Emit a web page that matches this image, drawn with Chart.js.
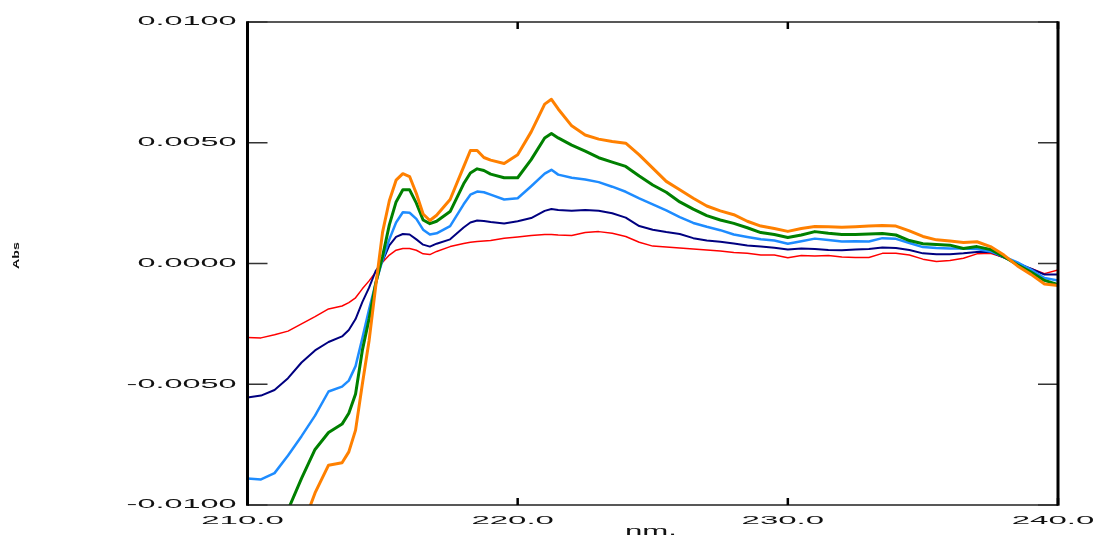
<!DOCTYPE html>
<html>
<head>
<meta charset="utf-8">
<script src="https://cdn.jsdelivr.net/npm/chart.js@4.4.1/dist/chart.umd.min.js"></script>
<style>
  html, body { margin: 0; padding: 0; background: #fff; }
  #wrap { width: 1093px; height: 537px; }
</style>
</head>
<body>
<div id="wrap"><canvas id="canvas" width="1093" height="537"></canvas></div>
<script>
// wavelengths (nm)
var wavelengths = [210, 210.5, 211, 211.5, 212, 212.5, 213, 213.5,
  213.75, 214, 214.25, 214.5, 214.75, 215, 215.25, 215.5, 215.75, 216, 216.25, 216.5, 216.75, 217,
  217.5, 218, 218.25, 218.5, 218.75, 219, 219.5, 220, 220.5, 221, 221.25, 221.5,
  222, 222.5, 223, 223.5, 224, 224.5, 225, 225.5, 226, 226.5, 227, 227.5, 228, 228.5, 229, 229.5,
  230, 230.5, 231, 231.5, 232, 232.5, 233, 233.5, 234, 234.5, 235, 235.5, 236, 236.5, 237, 237.5,
  238, 238.5, 239, 239.5, 240];

// absorbance values (Abs)
var absRed = [-3.06e-3, -3.08e-3, -2.95e-3, -2.80e-3, -2.50e-3, -2.20e-3, -1.88e-3, -1.76e-3,
  -1.62e-3, -1.42e-3, -1.05e-3, -0.72e-3, -0.35e-3, 0.05e-3, 0.35e-3, 0.55e-3, 0.62e-3, 0.62e-3, 0.55e-3, 0.40e-3, 0.37e-3, 0.50e-3,
  0.70e-3, 0.83e-3, 0.88e-3, 0.91e-3, 0.93e-3, 0.95e-3, 1.05e-3, 1.10e-3, 1.16e-3, 1.20e-3, 1.20e-3, 1.18e-3,
  1.16e-3, 1.28e-3, 1.32e-3, 1.25e-3, 1.12e-3, 0.88e-3, 0.72e-3, 0.68e-3, 0.64e-3, 0.60e-3, 0.56e-3, 0.52e-3, 0.46e-3, 0.42e-3, 0.35e-3, 0.35e-3,
  0.24e-3, 0.33e-3, 0.31e-3, 0.33e-3, 0.27e-3, 0.25e-3, 0.25e-3, 0.42e-3, 0.42e-3, 0.35e-3, 0.18e-3, 0.08e-3, 0.12e-3, 0.22e-3, 0.40e-3, 0.42e-3,
  0.25e-3, 0.02e-3, -0.21e-3, -0.42e-3, -0.27e-3];

var absNavy = [-5.55e-3, -5.47e-3, -5.24e-3, -4.75e-3, -4.10e-3, -3.60e-3, -3.25e-3, -3.02e-3,
  -2.75e-3, -2.30e-3, -1.60e-3, -1.00e-3, -0.30e-3, 0.10e-3, 0.75e-3, 1.10e-3, 1.22e-3, 1.20e-3, 1.00e-3, 0.78e-3, 0.70e-3, 0.82e-3,
  1.00e-3, 1.49e-3, 1.70e-3, 1.78e-3, 1.76e-3, 1.72e-3, 1.66e-3, 1.75e-3, 1.88e-3, 2.18e-3, 2.26e-3, 2.22e-3,
  2.18e-3, 2.22e-3, 2.18e-3, 2.08e-3, 1.90e-3, 1.55e-3, 1.40e-3, 1.30e-3, 1.22e-3, 1.05e-3, 0.95e-3, 0.90e-3, 0.83e-3, 0.75e-3, 0.70e-3, 0.65e-3,
  0.58e-3, 0.62e-3, 0.60e-3, 0.56e-3, 0.55e-3, 0.58e-3, 0.60e-3, 0.66e-3, 0.64e-3, 0.56e-3, 0.42e-3, 0.38e-3, 0.38e-3, 0.42e-3, 0.48e-3, 0.48e-3,
  0.25e-3, 0.00e-3, -0.21e-3, -0.46e-3, -0.46e-3];

var absBlue = [-8.90e-3, -8.94e-3, -8.68e-3, -7.95e-3, -7.15e-3, -6.30e-3, -5.30e-3, -5.10e-3,
  -4.85e-3, -4.25e-3, -3.10e-3, -1.90e-3, -0.80e-3, 0.15e-3, 1.00e-3, 1.70e-3, 2.12e-3, 2.10e-3, 1.85e-3, 1.40e-3, 1.20e-3, 1.25e-3,
  1.55e-3, 2.45e-3, 2.85e-3, 2.98e-3, 2.95e-3, 2.85e-3, 2.65e-3, 2.70e-3, 3.20e-3, 3.72e-3, 3.88e-3, 3.68e-3,
  3.55e-3, 3.48e-3, 3.37e-3, 3.18e-3, 2.97e-3, 2.70e-3, 2.45e-3, 2.20e-3, 1.92e-3, 1.68e-3, 1.52e-3, 1.38e-3, 1.20e-3, 1.10e-3, 1.00e-3, 0.95e-3,
  0.82e-3, 0.92e-3, 1.03e-3, 0.97e-3, 0.91e-3, 0.92e-3, 0.91e-3, 1.05e-3, 1.02e-3, 0.85e-3, 0.68e-3, 0.64e-3, 0.62e-3, 0.62e-3, 0.60e-3, 0.50e-3,
  0.28e-3, 0.05e-3, -0.25e-3, -0.60e-3, -0.70e-3];

var absGreen = [-12.5e-3, -11.8e-3, -11.0e-3, -10.2e-3, -8.90e-3, -7.70e-3, -7.00e-3, -6.65e-3,
  -6.20e-3, -5.40e-3, -3.60e-3, -2.30e-3, -0.80e-3, 0.30e-3, 1.60e-3, 2.55e-3, 3.05e-3, 3.05e-3, 2.50e-3, 1.80e-3, 1.65e-3, 1.75e-3,
  2.15e-3, 3.30e-3, 3.75e-3, 3.92e-3, 3.85e-3, 3.70e-3, 3.55e-3, 3.55e-3, 4.30e-3, 5.20e-3, 5.38e-3, 5.20e-3,
  4.90e-3, 4.65e-3, 4.38e-3, 4.20e-3, 4.02e-3, 3.62e-3, 3.25e-3, 2.95e-3, 2.55e-3, 2.25e-3, 1.98e-3, 1.80e-3, 1.66e-3, 1.48e-3, 1.28e-3, 1.20e-3,
  1.08e-3, 1.18e-3, 1.32e-3, 1.25e-3, 1.20e-3, 1.20e-3, 1.22e-3, 1.24e-3, 1.18e-3, 0.95e-3, 0.82e-3, 0.79e-3, 0.76e-3, 0.62e-3, 0.70e-3, 0.58e-3,
  0.28e-3, -0.05e-3, -0.35e-3, -0.70e-3, -0.87e-3];

var absOrange = [-15.0e-3, -14.0e-3, -13.0e-3, -12.0e-3, -11.0e-3, -9.50e-3, -8.35e-3, -8.25e-3,
  -7.80e-3, -6.90e-3, -5.00e-3, -3.20e-3, -0.90e-3, 1.30e-3, 2.60e-3, 3.45e-3, 3.72e-3, 3.60e-3, 2.90e-3, 2.05e-3, 1.78e-3, 2.00e-3,
  2.65e-3, 4.00e-3, 4.68e-3, 4.68e-3, 4.39e-3, 4.28e-3, 4.14e-3, 4.50e-3, 5.45e-3, 6.60e-3, 6.80e-3, 6.40e-3,
  5.70e-3, 5.32e-3, 5.15e-3, 5.05e-3, 4.98e-3, 4.50e-3, 3.95e-3, 3.40e-3, 3.05e-3, 2.70e-3, 2.38e-3, 2.18e-3, 2.02e-3, 1.75e-3, 1.55e-3, 1.45e-3,
  1.33e-3, 1.45e-3, 1.53e-3, 1.52e-3, 1.50e-3, 1.52e-3, 1.55e-3, 1.57e-3, 1.55e-3, 1.35e-3, 1.12e-3, 0.98e-3, 0.93e-3, 0.87e-3, 0.90e-3, 0.70e-3,
  0.35e-3, -0.10e-3, -0.45e-3, -0.85e-3, -0.91e-3];

var xTicks = [210, 220, 230, 240];
var yTicks = [-0.01, -0.005, 0, 0.005, 0.01];

var FONT = "'Liberation Sans', Arial, sans-serif";

function pts(arr) {
  return wavelengths.map(function(w, i) { return {x: w, y: arr[i]}; });
}

function mkSet(label, arr, color, width) {
  return {
    label: label, data: pts(arr), borderColor: color, backgroundColor: color,
    borderWidth: width, pointRadius: 0, tension: 0, borderJoinStyle: 'round', fill: false
  };
}

// draws stretched text (the plot software stretches its labels horizontally)
function wideText(ctx, txt, x, y, sx, align, font) {
  ctx.save();
  ctx.font = font;
  ctx.textBaseline = 'middle';
  var w = ctx.measureText(txt).width * sx;
  var x0 = align === 'right' ? x - w : (align === 'center' ? x - w / 2 : x);
  ctx.translate(x0, y);
  ctx.scale(sx, 1);
  ctx.textAlign = 'left';
  ctx.fillText(txt, 0, 0);
  ctx.restore();
}

var framePlugin = {
  id: 'frame',
  afterDatasetsDraw: function(chart) {
    var ctx = chart.ctx, a = chart.chartArea;
    var xs = chart.scales.x, ys = chart.scales.y;
    ctx.save();
    ctx.fillStyle = '#000';
    // top / bottom lines
    ctx.strokeStyle = '#222';
    ctx.lineWidth = 1.5;
    ctx.beginPath();
    ctx.moveTo(a.left, a.top); ctx.lineTo(a.right, a.top);
    ctx.moveTo(a.left, a.bottom); ctx.lineTo(a.right, a.bottom);
    ctx.stroke();
    // inward y ticks on both sides
    ctx.strokeStyle = '#333';
    ctx.lineWidth = 1.5;
    yTicks.forEach(function(v) {
      var py = ys.getPixelForValue(v);
      ctx.beginPath();
      ctx.moveTo(a.left, py); ctx.lineTo(a.left + 20, py);
      ctx.moveTo(a.right - 20, py); ctx.lineTo(a.right, py);
      ctx.stroke();
    });
    // x ticks top and bottom
    ctx.strokeStyle = '#000';
    ctx.lineWidth = 2.5;
    xTicks.forEach(function(v) {
      var px = xs.getPixelForValue(v);
      ctx.beginPath();
      ctx.moveTo(px, a.top); ctx.lineTo(px, a.top + 7);
      ctx.moveTo(px, a.bottom); ctx.lineTo(px, a.bottom - 7);
      ctx.stroke();
    });
    // left / right thick lines
    ctx.strokeStyle = '#000';
    ctx.lineWidth = 3;
    ctx.beginPath();
    ctx.moveTo(a.left, a.top - 0.75); ctx.lineTo(a.left, a.bottom + 0.75);
    ctx.moveTo(a.right, a.top - 0.75); ctx.lineTo(a.right, a.bottom + 0.75);
    ctx.stroke();

    // tick labels
    ctx.fillStyle = '#111';
    yTicks.forEach(function(v) {
      wideText(ctx, v.toFixed(4), a.left - 11, ys.getPixelForValue(v), 2.7, 'right', '12px ' + FONT);
    });
    xTicks.forEach(function(v) {
      wideText(ctx, v.toFixed(1), xs.getPixelForValue(v) - 5, 521, 3.0, 'center', '11px ' + FONT);
    });
    // x title
    wideText(ctx, 'nm.', 651, 532, 2.6, 'center', '12px ' + FONT);

    // rotated y title, reads bottom to top
    ctx.save();
    ctx.font = 'bold 9.5px ' + FONT;
    ctx.textAlign = 'center';
    ctx.textBaseline = 'middle';
    ctx.setTransform(1, 0, 0, 1, 0, 0);
    ctx.translate(16.5, 255.5);
    ctx.rotate(-Math.PI / 2);
    ctx.scale(1.5, 1);
    ctx.fillText('Abs', 0, 0);
    ctx.restore();

    ctx.restore();
  }
};

var config = {
  type: 'line',
  data: {
    datasets: [
      mkSet('5', absOrange, '#FF8000', 3),
      mkSet('4', absGreen, '#008000', 3),
      mkSet('3', absBlue, '#1E8CFF', 2.5),
      mkSet('2', absNavy, '#000080', 2),
      mkSet('1', absRed, '#FF0000', 1.5)
    ]
  },
  options: {
    responsive: false,
    animation: false,
    events: [],
    layout: {padding: {top: 22, right: 35, left: 0, bottom: 0}},
    plugins: {legend: {display: false}, tooltip: {enabled: false}, title: {display: false}},
    scales: {
      x: {
        type: 'linear', min: 210, max: 240,
        ticks: {display: false, stepSize: 10},
        grid: {display: false}, border: {display: false},
        afterFit: function(s) { s.height = 32; s.paddingLeft = 0; s.paddingRight = 0; }
      },
      y: {
        type: 'linear', min: -0.01, max: 0.01,
        ticks: {display: false, stepSize: 0.005},
        grid: {display: false}, border: {display: false},
        afterFit: function(s) { s.width = 247.5; s.paddingTop = 0; s.paddingBottom = 0; }
      }
    }
  },
  plugins: [framePlugin]
};

window.onload = function() {
  window.myChart = new Chart(document.getElementById('canvas'), config);
};
</script>
</body>
</html>
